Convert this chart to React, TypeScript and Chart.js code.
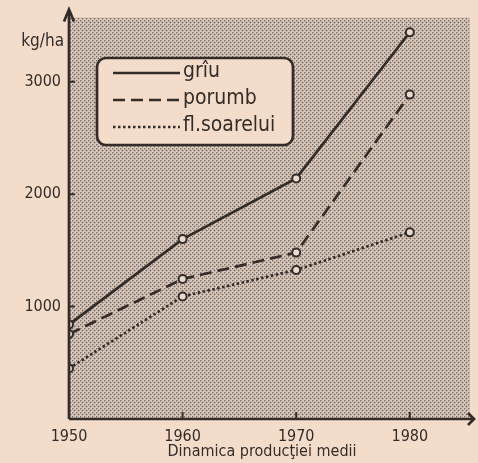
import React, { useEffect, useRef } from "react";
import { Chart, registerables } from "chart.js";

Chart.register(...registerables);

const years = [1950, 1960, 1970, 1980];
const yTicks = [1000, 2000, 3000];
const griu = [840, 1600, 2140, 3440];
const porumb = [755, 1245, 1480, 2885];
const floarea = [450, 1090, 1325, 1660];
const seriesLabels = ["grîu", "porumb", "fl.soarelui"];
const unitLabel = "kg/ha";
const xTitle = "Dinamica producţiei medii";

const INK = "#332c28";
const PAPER = "#f4dccb";
const FONT = "'DejaVu Sans Condensed', 'DejaVu Sans', sans-serif";

export default function App() {
  const ref = useRef<HTMLCanvasElement | null>(null);

  useEffect(() => {
    const canvas = ref.current;
    if (!canvas) return;
    document.body.style.margin = "0";
    document.body.style.background = PAPER;

    const pc = document.createElement("canvas");
    pc.width = 4;
    pc.height = 4;
    const pctx = pc.getContext("2d")!;
    pctx.fillStyle = "#d9c8bb";
    pctx.fillRect(0, 0, 4, 4);
    pctx.fillStyle = "#b3a49a";
    [[1, 0], [0, 1], [3, 2], [2, 1], [1, 2], [2, 3]].forEach(([x, y]) => pctx.fillRect(x, y, 1, 1));
    pctx.fillStyle = "#76696293";
    pctx.fillStyle = "#786b64";
    pctx.fillRect(0, 0, 1, 1);
    pctx.fillRect(2, 2, 1, 1);

    const dashes: number[][] = [[], [12, 6], [2.5, 2.5]];

    const mk = (vals: number[], i: number) => ({
      label: seriesLabels[i],
      data: years.map((x, k) => ({ x, y: vals[k] })),
      borderColor: INK,
      borderWidth: 2.7,
      borderDash: dashes[i],
      pointRadius: 4,
      pointBorderWidth: 2,
      pointBorderColor: INK,
      pointBackgroundColor: "#eadbd0",
      fill: false,
      tension: 0,
    });

    const deco = {
      id: "deco",
      beforeDraw(chart: any) {
        const { ctx, chartArea: a } = chart;
        ctx.save();
        ctx.fillStyle = ctx.createPattern(pc, "repeat");
        ctx.fillRect(a.left, a.top, a.right - a.left, a.bottom - a.top);
        ctx.restore();
      },
      afterDraw(chart: any) {
        const { ctx, chartArea: a, scales } = chart;
        ctx.save();
        ctx.strokeStyle = INK;
        ctx.fillStyle = INK;
        ctx.lineWidth = 2.7;
        // axes
        ctx.beginPath();
        ctx.moveTo(a.left, a.bottom);
        ctx.lineTo(a.left, a.top - 6);
        ctx.moveTo(a.left, a.bottom);
        ctx.lineTo(a.right + 3, a.bottom);
        ctx.stroke();
        // arrowheads
        ctx.beginPath();
        ctx.moveTo(a.left - 5, a.top + 4);
        ctx.lineTo(a.left, a.top - 8);
        ctx.lineTo(a.left + 5, a.top + 4);
        ctx.stroke();
        ctx.beginPath();
        ctx.moveTo(a.right - 2, a.bottom - 6);
        ctx.lineTo(a.right + 4, a.bottom);
        ctx.lineTo(a.right - 2, a.bottom + 6);
        ctx.stroke();
        // inner ticks
        ctx.lineWidth = 2;
        ctx.beginPath();
        for (const t of scales.x.ticks) {
          const px = scales.x.getPixelForValue(t.value);
          if (t.value === years[0]) continue;
          ctx.moveTo(px, a.bottom);
          ctx.lineTo(px, a.bottom - 7);
        }
        for (const t of scales.y.ticks) {
          const py = scales.y.getPixelForValue(t.value);
          ctx.moveTo(a.left, py);
          ctx.lineTo(a.left + 6, py);
        }
        ctx.stroke();
        // unit label
        ctx.font = `17px ${FONT}`;
        ctx.textAlign = "right";
        ctx.textBaseline = "middle";
        ctx.fillText(unitLabel, a.left - 5, 42);
        // axis title
        ctx.font = `16px ${FONT}`;
        ctx.textAlign = "center";
        ctx.fillText(xTitle, 262, 452);
        // legend
        const bx = 97, by = 58, bw = 196, bh = 87, r = 9;
        ctx.beginPath();
        ctx.moveTo(bx + r, by);
        ctx.lineTo(bx + bw - r, by);
        ctx.arcTo(bx + bw, by, bx + bw, by + r, r);
        ctx.lineTo(bx + bw, by + bh - r);
        ctx.arcTo(bx + bw, by + bh, bx + bw - r, by + bh, r);
        ctx.lineTo(bx + r, by + bh);
        ctx.arcTo(bx, by + bh, bx, by + bh - r, r);
        ctx.lineTo(bx, by + r);
        ctx.arcTo(bx, by, bx + r, by, r);
        ctx.closePath();
        ctx.fillStyle = PAPER;
        ctx.fill();
        ctx.lineWidth = 2.7;
        ctx.strokeStyle = INK;
        ctx.stroke();
        const rows = [73, 100, 127];
        chart.data.datasets.forEach((ds: any, i: number) => {
          const y = rows[i];
          ctx.beginPath();
          ctx.setLineDash(ds.borderDash || []);
          ctx.lineWidth = 2.7;
          ctx.moveTo(113, y);
          ctx.lineTo(180, y);
          ctx.stroke();
          ctx.setLineDash([]);
          ctx.fillStyle = INK;
          ctx.font = `21px ${FONT}`;
          ctx.textAlign = "left";
          ctx.textBaseline = "middle";
          ctx.fillText(ds.label, 183, y - 1);
        });
        ctx.restore();
      },
    };

    const chart = new Chart(canvas, {
      type: "line",
      data: {
        datasets: [mk(griu, 0), mk(porumb, 1), mk(floarea, 2)],
      },
      options: {
        animation: false,
        responsive: false,
        layout: { padding: { top: 12, right: 8, left: 0, bottom: 0 } },
        plugins: { legend: { display: false }, tooltip: { enabled: false } },
        scales: {
          x: {
            type: "linear",
            min: 1950,
            max: 1985.3,
            afterBuildTicks: (s: any) => {
              s.ticks = years.map((v) => ({ value: v }));
            },
            afterFit: (s: any) => {
              s.height = 44;
            },
            grid: { display: false, drawTicks: false },
            border: { display: false },
            ticks: {
              color: INK,
              font: { family: FONT, size: 16 },
              padding: 8,
              maxRotation: 0,
              autoSkip: false,
              callback: (v: any) => String(v),
            },
          },
          y: {
            type: "linear",
            min: 0,
            max: 3570,
            afterBuildTicks: (s: any) => {
              s.ticks = yTicks.map((v) => ({ value: v }));
            },
            afterFit: (s: any) => {
              s.width = 69;
            },
            grid: { display: false, drawTicks: false },
            border: { display: false },
            ticks: {
              color: INK,
              font: { family: FONT, size: 16 },
              padding: 8,
              callback: (v: any) => String(v),
            },
          },
        },
      },
      plugins: [deco],
    } as any);

    return () => chart.destroy();
  }, []);

  return (
    <div style={{ position: "fixed", left: 0, top: 0, width: 478, height: 463, background: PAPER }}>
      <canvas ref={ref} width={478} height={463} style={{ display: "block" }} />
    </div>
  );
}
